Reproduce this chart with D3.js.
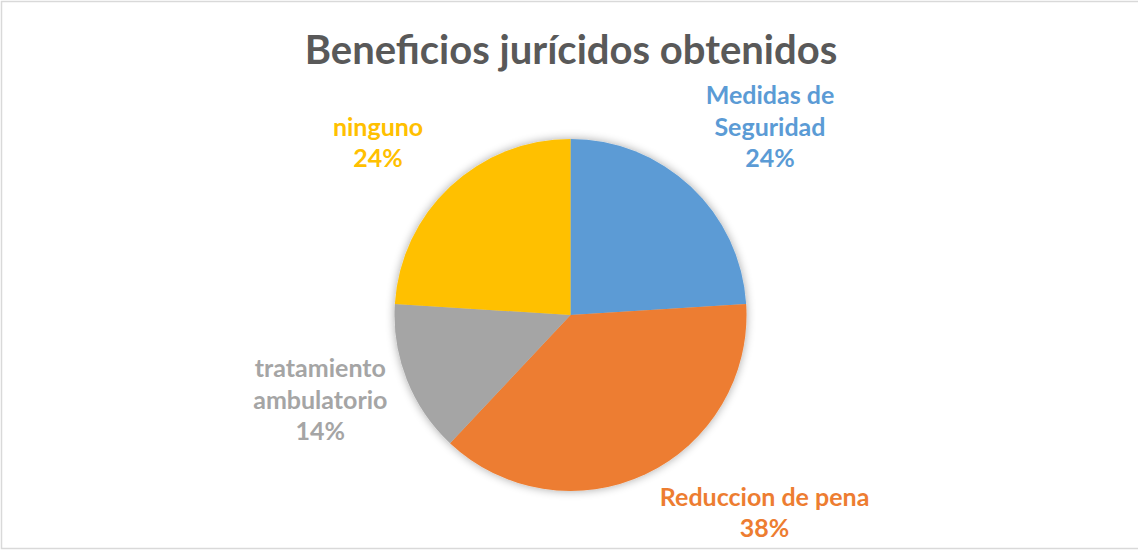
<!DOCTYPE html>
<html>
<head>
  <meta charset="utf-8">
  <title>Beneficios jurícidos obtenidos</title>
  <script src="https://d3js.org/d3.v7.min.js"></script>
  <style>
    body { margin: 0; background: #fff; }
    text { font-family: Lato, "Open Sans", sans-serif; font-weight: 700; }
  </style>
</head>
<body>
  <svg width="1138" height="550"></svg>

  <script>
    // datos del gráfico
    const categorias = ["Medidas de Seguridad", "Reduccion de pena", "tratamiento ambulatorio", "ninguno"];
    const etiquetas = [["Medidas de", "Seguridad"], ["Reduccion de pena"], ["tratamiento", "ambulatorio"], ["ninguno"]];
    const porcentajes = [24, 38, 14, 24];
    const colores = ["#5B9BD5", "#ED7D31", "#A5A5A5", "#FFC000"];

    const width = 1138, height = 550;
    const cx = 570.5, cy = 315, radio = 176;

    const svg = d3.select("svg");

    // borde del área del gráfico
    svg.append("rect")
      .attr("x", 1.5).attr("y", 1.5)
      .attr("width", width + 10).attr("height", height - 3)
      .attr("fill", "#fff")
      .attr("stroke", "#D9D9D9")
      .attr("stroke-width", 1.5);

    // sombra suave
    const defs = svg.append("defs");
    const f = defs.append("filter").attr("id", "sombra")
      .attr("x", "-20%").attr("y", "-20%").attr("width", "140%").attr("height", "140%");
    f.append("feGaussianBlur").attr("in", "SourceAlpha").attr("stdDeviation", 5).attr("result", "b");
    f.append("feComponentTransfer").attr("in", "b").attr("result", "s")
      .append("feFuncA").attr("type", "linear").attr("slope", 0.35);
    const m = f.append("feMerge");
    m.append("feMergeNode").attr("in", "s");
    m.append("feMergeNode").attr("in", "SourceGraphic");

    // título
    svg.append("text")
      .attr("x", 571).attr("y", 64)
      .attr("text-anchor", "middle")
      .attr("fill", "#595959")
      .style("font-size", "40px")
      .text("Beneficios jurícidos obtenidos");

    const pie = d3.pie().sort(null).value(d => d)(porcentajes);
    const arc = d3.arc().innerRadius(0).outerRadius(radio);

    const g = svg.append("g").attr("transform", `translate(${cx},${cy})`);

    g.append("g").attr("filter", "url(#sombra)")
      .selectAll("path")
      .data(pie)
      .enter().append("path")
      .attr("d", arc)
      .attr("fill", (d, i) => colores[i]);

    // etiquetas: posición a partir del ángulo medio, con ajuste tipo "mejor ajuste"
    const arcEtiqueta = d3.arc().innerRadius(268).outerRadius(268);
    const ajustes = [[16, 8], [80, -44], [-1, -13], [-9, 24]];
    const lineaAlto = 31.5;

    pie.forEach((d, i) => {
      const [x, y] = arcEtiqueta.centroid(d);
      const lineas = etiquetas[i].concat([porcentajes[i] + "%"]);
      const x0 = x + ajustes[i][0];
      const y0 = y + ajustes[i][1] - (lineas.length - 1) * lineaAlto / 2 + 8;
      const t = g.append("text")
        .attr("text-anchor", "middle")
        .attr("fill", colores[i])
        .style("font-size", "25px");
      lineas.forEach((l, k) => {
        t.append("tspan").attr("x", x0).attr("y", y0 + k * lineaAlto).text(l);
      });
    });
  </script>
</body>
</html>
